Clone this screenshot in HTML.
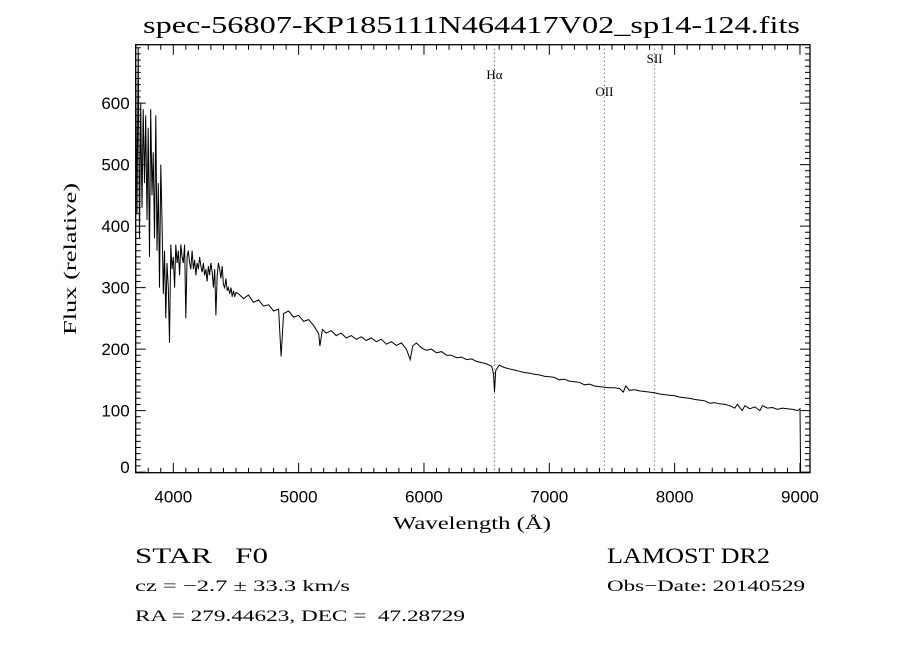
<!DOCTYPE html>
<html><head><meta charset="utf-8"><style>
body{margin:0;background:#fff;}
svg{display:block;}
.t{font-family:"Liberation Serif",serif;fill:#000;}
.s{font-family:"Liberation Sans",sans-serif;fill:#000;}
</style></head><body>
<svg id="chart" width="900" height="650" viewBox="0 0 900 650">
<rect width="900" height="650" fill="#fff"/>
<text class="t" x="143" y="33" font-size="24" textLength="657" lengthAdjust="spacingAndGlyphs">spec-56807-KP185111N464417V02_sp14-124.fits</text>
<g id="axes"></g>
<g id="lines"></g>
<path id="spec" fill="none" stroke="#000" stroke-width="1"/>
<rect x="135.7" y="44.7" width="674.3" height="428" fill="none" stroke="#000" stroke-width="1.3"/>
<text class="t" x="393" y="529" font-size="18" textLength="158" lengthAdjust="spacingAndGlyphs">Wavelength (Å)</text>
<text class="t" x="76" y="335" font-size="18" textLength="152" lengthAdjust="spacingAndGlyphs" transform="rotate(-90 76 335)">Flux (relative)</text>
<text class="t" x="135" y="563" font-size="22" textLength="133" lengthAdjust="spacingAndGlyphs">STAR &#160;&#160;F0</text>
<text class="t" x="607" y="563" font-size="22" textLength="163" lengthAdjust="spacingAndGlyphs">LAMOST DR2</text>
<text class="t" x="135" y="591" font-size="16" textLength="215" lengthAdjust="spacingAndGlyphs">cz = −2.7 ± 33.3 km/s</text>
<text class="t" x="607" y="591" font-size="16" textLength="198" lengthAdjust="spacingAndGlyphs">Obs−Date: 20140529</text>
<text class="t" x="135" y="621" font-size="16" textLength="330" lengthAdjust="spacingAndGlyphs">RA = 279.44623, DEC = &#160;47.28729</text>
</svg>
<script>
const xTicks=[4000,5000,6000,7000,8000,9000];
const yTicks=[0,100,200,300,400,500,600];
const lineNames=["Hα","OII","SII"];
const lineWls=[6563,7440,7840];
const wl=[3700,3710,3720,3730,3740,3750,3760,3770,3780,3790,3800,3810,3820,3830,3840,3850,3860,3870,3880,3890,3900,3910,3920,3930,3940,3950,3960,3970,3980,3990,4000,4010,4020,4030,4040,4050,4060,4070,4080,4090,4100,4110,4120,4130,4140,4150,4160,4170,4180,4190,4200,4210,4220,4230,4240,4250,4260,4270,4280,4290,4300,4310,4320,4330,4340,4350,4360,4370,4380,4390,4400,4410,4420,4430,4440,4450,4460,4470,4480,4490,4500,
4520,4560,4600,4640,4680,4720,4760,4800,4840,4860,4880,4920,4960,5000,5040,5080,5120,5160,5170,5190,5220,5260,5300,5340,5380,5420,5460,5500,5540,5580,5620,5660,5700,5740,5780,5820,5860,5890,5910,5940,5980,6020,6060,6100,6140,6180,6220,6260,6300,6340,6380,6420,6460,6500,6540,6555,6563,6572,6600,6640,6680,6720,6760,6800,6840,6880,6920,6960,7000,7040,7080,7120,7160,7200,7240,7280,7320,7360,7400,7440,7480,7520,7560,7590,7610,7640,7680,7720,7760,7800,7840,7880,7920,7960,8000,8040,8080,8120,8160,8200,8240,8280,8320,8360,8400,8440,8480,8500,8540,8560,8600,8640,8680,8700,8740,8780,8820,8860,8900,8940,8980,9000,9005];
const flux=[650,420,690,380,600,430,590,470,580,410,560,350,590,450,520,380,580,360,470,300,500,410,290,360,250,340,300,210,370,330,350,300,370,340,360,320,370,350,340,370,250,350,360,340,330,360,330,345,320,340,330,350,335,325,340,320,330,310,335,320,340,325,300,330,255,320,340,330,315,335,305,300,315,295,300,290,300,285,295,285,292,
290,282,288,276,280,270,272,262,265,188,258,262,252,255,245,248,238,225,205,232,226,230,222,226,218,222,216,220,214,218,212,216,208,212,206,210,200,183,205,210,202,198,200,194,196,190,190,186,187,183,184,180,178,176,172,160,130,165,174,170,168,166,164,162,161,159,158,156,155,154,150,151,148,147,146,142,143,140,139,138,137,137,136,130,140,133,134,132,131,130,129,127,126,125,124,122,121,120,118,117,116,112,113,111,110,108,104,110,100,108,103,106,100,108,104,105,102,104,103,102,100,103,0];
const X0=135.7,X1=810,W0=3700,W1=9080,Y0=472.7,Y1=44.7,F0=-1,F1=695;
const xs=w=>X0+(w-W0)/(W1-W0)*(X1-X0);
const ys=f=>Y0-(f-F0)/(F1-F0)*(Y0-Y1);
const NS="http://www.w3.org/2000/svg";
function mk(tag,attrs,parent){const e=document.createElementNS(NS,tag);for(const k in attrs)e.setAttribute(k,attrs[k]);parent.appendChild(e);return e;}
const axes=document.getElementById('axes');
let tp="";
for(let w=3700;w<=9080;w+=100){const x=xs(w);const L=(w%1000===0)?10:5;tp+=`M${x},${Y0}v${-L}M${x},${Y1}v${L}`;}
for(let f=0;f<=690;f+=10){const y=ys(f);const L=(f%100===0)?10:5;tp+=`M${X0},${y}h${L}M${X1},${y}h${-L}`;}
const tk=mk('path',{d:tp,stroke:'#000','stroke-width':1,fill:'none'},axes);


xTicks.forEach(v=>{const t=mk('text',{x:xs(v),y:Y0+30,'font-size':17,'text-anchor':'middle',class:'s'},axes);t.textContent=v;

});
yTicks.forEach(v=>{const t=mk('text',{x:X0-6,y:Math.min(ys(v)+6,473),'font-size':17,'text-anchor':'end',class:'s'},axes);t.textContent=v;

});
const lg=document.getElementById('lines');
const labY=[79,96,63];
lineWls.forEach((w,i)=>{const x=xs(w);
const l=mk('line',{x1:x,x2:x,y1:Y1,y2:Y0,stroke:'#7a2a2a','stroke-width':1,'stroke-dasharray':'1,3'},lg);


const t=mk('text',{x:x,y:labY[i],'font-size':13,'text-anchor':'middle',class:'t'},lg);t.textContent=lineNames[i];

});
let d="";wl.forEach((w,i)=>{d+=(i?"L":"M")+xs(w).toFixed(1)+","+ys(flux[i]).toFixed(1);});
document.getElementById('spec').setAttribute('d',d);
</script>
</body></html>
